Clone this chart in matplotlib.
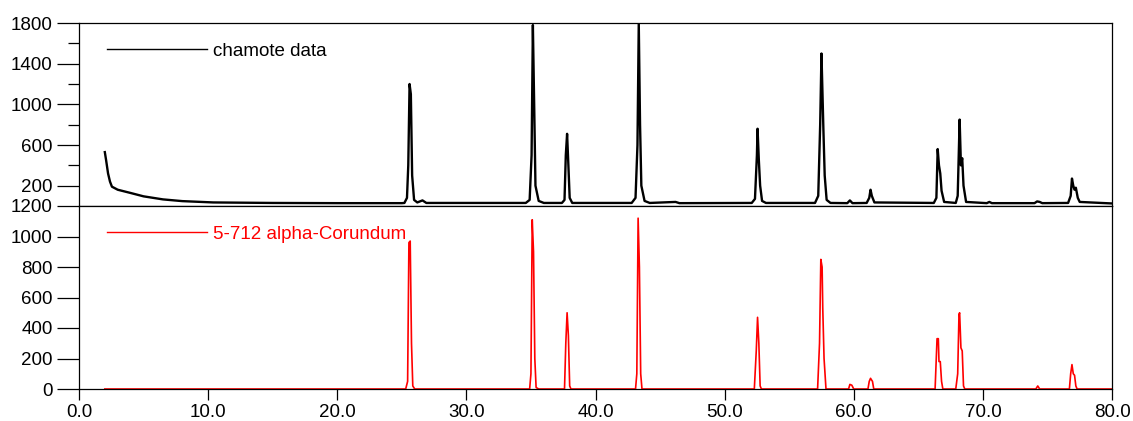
import matplotlib
matplotlib.use("Agg")
import matplotlib.pyplot as plt
import numpy as np
from matplotlib.ticker import FormatStrFormatter

plt.rcParams['font.family'] = ['Liberation Sans', 'DejaVu Sans']

# chamote data, vertices (2theta, counts)
chamote_x = [2.0, 2.1, 2.25, 2.4, 2.55, 3.0, 4.0, 5.0, 6.5, 8.0, 10.4, 15.0, 20.0, 25.0,
             25.2, 25.4, 25.5, 25.6, 25.7, 25.8, 25.95, 26.2, 26.6, 26.9,
             34.6, 34.9, 35.05, 35.15, 35.25, 35.35, 35.6, 36.0,
             37.4, 37.6, 37.7, 37.8, 37.9, 38.0, 38.2,
             42.8, 43.1, 43.25, 43.35, 43.45, 43.55, 43.8, 44.2, 46.2, 46.5,
             52.1, 52.35, 52.5, 52.55, 52.65, 52.75, 52.9, 53.2,
             57.0, 57.25, 57.4, 57.5, 57.6, 57.65, 57.75, 57.9, 58.2, 59.5, 59.7, 59.9,
             61.0, 61.2, 61.3, 61.4, 61.6,
             66.2, 66.4, 66.5, 66.6, 66.7, 66.8, 67.0,
             67.9, 68.05, 68.15, 68.2, 68.3, 68.4, 68.5, 68.7,
             70.3, 70.5, 70.7, 74.0, 74.2, 74.4, 74.6,
             76.6, 76.8, 76.9, 77.0, 77.1, 77.2, 77.35, 77.5, 80.0]
chamote_y = [530, 450, 320, 240, 190, 160, 128, 95, 65, 48, 35, 30, 28, 28,
             30, 80, 400, 1200, 1100, 300, 60, 35, 55, 30,
             30, 60, 500, 1780, 1000, 200, 50, 30,
             30, 60, 500, 710, 400, 80, 30,
             30, 80, 600, 1800, 800, 200, 50, 30, 40, 28,
             30, 70, 500, 760, 450, 200, 50, 30,
             30, 100, 800, 1500, 1000, 750, 300, 60, 30, 28, 55, 28,
             30, 80, 160, 100, 35,
             30, 80, 560, 400, 320, 150, 40,
             30, 100, 600, 850, 400, 470, 200, 40,
             28, 40, 28, 28, 45, 40, 28,
             30, 100, 270, 200, 160, 180, 80, 40, 25]

# 5-712 alpha-Corundum reference pattern
corundum_x = [2.0, 25.3, 25.45, 25.55, 25.65, 25.75, 25.85, 26.0,
              34.9, 35.0, 35.1, 35.2, 35.3, 35.4, 35.6,
              37.6, 37.7, 37.8, 37.9, 38.0, 38.1,
              43.1, 43.2, 43.3, 43.4, 43.5, 43.6,
              52.3, 52.45, 52.55, 52.65, 52.75, 52.85,
              57.2, 57.35, 57.45, 57.55, 57.6, 57.7, 57.85,
              59.6, 59.7, 59.85, 60.0,
              61.1, 61.2, 61.3, 61.45, 61.55,
              66.3, 66.45, 66.55, 66.6, 66.7, 66.8, 66.9,
              67.9, 68.05, 68.15, 68.2, 68.3, 68.4, 68.5, 68.6,
              74.1, 74.25, 74.4,
              76.7, 76.8, 76.9, 77.0, 77.1, 77.2, 77.3, 80.0]
corundum_y = [0, 0, 50, 960, 970, 300, 20, 0,
              0, 100, 1110, 900, 200, 10, 0,
              0, 300, 500, 350, 20, 0,
              0, 100, 1120, 800, 100, 0,
              0, 250, 470, 300, 20, 0,
              0, 300, 850, 800, 530, 200, 0,
              0, 30, 25, 0,
              0, 50, 70, 50, 0,
              0, 330, 330, 180, 180, 50, 0,
              0, 100, 490, 500, 270, 250, 20, 0,
              0, 20, 0,
              0, 100, 160, 100, 90, 20, 0, 0]

x_ticks = [0, 10, 20, 30, 40, 50, 60, 70, 80]

fig = plt.figure(figsize=(11.33, 4.21), dpi=100)
ax1 = fig.add_axes([79 / 1133, 1 - 206 / 421, 1033 / 1133, 183 / 421])
ax2 = fig.add_axes([79 / 1133, 1 - 389 / 421, 1033 / 1133, 183 / 421])

ax1.plot(chamote_x, chamote_y, color='black', lw=1.7, label='chamote data')
ax2.plot(corundum_x, corundum_y, color='red', lw=1.2, label='5-712 alpha-Corundum')

for ax in (ax1, ax2):
    ax.set_xlim(0, 80)
    for s in ax.spines.values():
        s.set_linewidth(0.9)
    ax.tick_params(axis='y', which='major', direction='out', length=16, width=0.9,
                   labelsize=13.5, pad=3)
    ax.tick_params(axis='y', which='minor', direction='out', length=8, width=0.9)
    ax.tick_params(axis='x', direction='out', length=8, width=0.9, labelsize=13.5, pad=3)

ax1.set_ylim(0, 1800)
ax1.set_yticks([200, 600, 1000, 1400, 1800])
ax1.set_yticks([400, 800, 1200, 1600], minor=True)
ax1.set_xticks([])
ax1.set_xticks([], minor=True)

ax2.set_ylim(0, 1200)
ax2.set_yticks(np.arange(0, 1201, 200))
ax2.set_xticks(x_ticks)
ax2.xaxis.set_major_formatter(FormatStrFormatter('%.1f'))

leg1 = ax1.legend(loc='upper left', bbox_to_anchor=(0.0271, 0.893), frameon=False,
                  fontsize=13.5, handlelength=5.35, handletextpad=0.33, borderpad=0,
                  borderaxespad=0)
leg2 = ax2.legend(loc='upper left', bbox_to_anchor=(0.0271, 0.893), frameon=False,
                  fontsize=13.5, handlelength=5.35, handletextpad=0.33, borderpad=0,
                  borderaxespad=0, labelcolor='red')
leg1.get_lines()[0].set_linewidth(1.0)
leg2.get_lines()[0].set_linewidth(1.0)

fig.savefig('out.png', dpi=100)
